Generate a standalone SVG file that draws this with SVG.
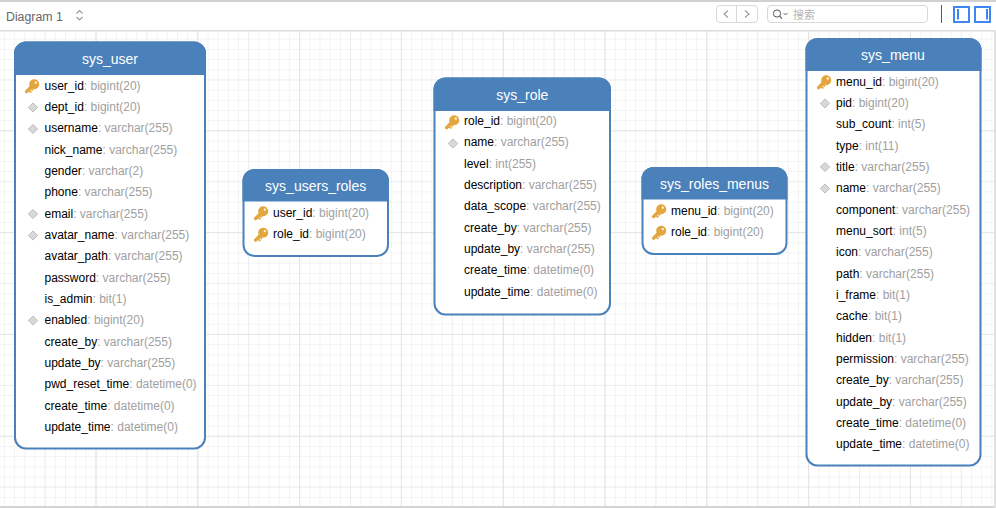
<svg xmlns="http://www.w3.org/2000/svg" width="996" height="508" viewBox="0 0 996 508">
<style>
text{font-family:"Liberation Sans",Arial,sans-serif}
.box{fill:#fff;stroke:#4a81bb;stroke-width:2}
.head{fill:#4a81bb}
.title{font-size:14px;fill:#fff;text-anchor:middle}
.row{font-size:12px;fill:#000}
.type{fill:#a0a0a0}
.ui{font-size:12.3px;fill:#666}
.btn{fill:none;stroke:#d8d8d8;stroke-width:1}
.chev{fill:none;stroke:#9a9a9a;stroke-width:1.1}
.panel{fill:#fff;stroke:#3f86f2;stroke-width:2}
</style>
<defs>
<pattern id="minor" width="10.18" height="10.18" patternUnits="userSpaceOnUse" x="-5.3" y="-1.04"><path d="M10.18 0V10.18M0 10.18H10.18" fill="none" stroke="#f0f0f0" stroke-width="1.4"/></pattern>
<pattern id="medium" width="50.9" height="50.9" patternUnits="userSpaceOnUse" x="-5.3" y="29.5"><path d="M50.9 0V50.9M0 50.9H50.9" fill="none" stroke="#e8e8e8" stroke-width="1.2"/></pattern>
<pattern id="major" width="101.8" height="101.8" patternUnits="userSpaceOnUse" x="-5.3" y="29.5"><path d="M101.8 0V101.8M0 101.8H101.8" fill="none" stroke="#dedede" stroke-width="1.2"/></pattern>
<g id="key"><path d="M2 -1.800L-5.400 5.600" stroke="#e3a63c" stroke-width="3.400" stroke-linecap="round" fill="none"/><path d="M-2.600 4.800L-0.600 6.400M-0.600 2.800L1 4.400" stroke="#e3a63c" stroke-width="1.800" fill="none"/><circle cx="2.200" cy="-1.700" r="5" fill="#e3a63c"/><circle cx="3.800" cy="-3.300" r="1.100" fill="#fff"/></g>
<path id="dia" d="M0 -4.600L4.600 0L0 4.600L-4.600 0Z" fill="#d8d8d8" stroke="#bcbcbc" stroke-width="1"/>
</defs>
<rect width="996" height="508" fill="#fff"/>
<rect y="30" width="996" height="478" fill="url(#minor)"/>
<rect y="30" width="996" height="478" fill="url(#medium)"/>
<rect y="30" width="996" height="478" fill="url(#major)"/>
<g id="toolbar">
<rect width="996" height="2" fill="#d0d0d0"/>
<rect y="2" width="996" height="28" fill="#fff"/>
<rect y="30" width="996" height="1.500" fill="#dcdcdc"/>
<rect y="506" width="996" height="2" fill="#d4d4d4"/>
<rect x="994" y="30" width="2" height="478" fill="#e2e2e2"/>
<text x="6" y="20.500" class="ui">Diagram 1</text>
<path class="chev" d="M76.500 13.500L79.500 10.500L82.500 13.500M76.500 17L79.500 20L82.500 17"/>
<rect class="btn" x="716.500" y="5.500" width="41" height="17" rx="3.500"/>
<path class="btn" d="M736.500 6V22"/>
<path class="chev" d="M728 10.500L724 14L728 17.500M745 10.500L749 14L745 17.500" stroke="#b8b8b8"/>
<rect class="btn" x="767.500" y="5.500" width="160" height="17" rx="3.500"/>
<circle cx="777" cy="13.500" r="3.600" fill="none" stroke="#555" stroke-width="1"/>
<path d="M779.600 16.200L782 18.600" stroke="#555" stroke-width="1.100"/>
<path d="M783.500 13L785.500 15L787.500 13" fill="none" stroke="#555" stroke-width="0.900"/>
<text x="793" y="18.500" font-size="11" fill="#b5b5b5" style="font-family:'Liberation Sans','Noto Sans CJK SC',sans-serif">搜索</text>
<path d="M941.500 5V23" stroke="#5a5a5a" stroke-width="1"/>
<rect class="panel" x="954" y="7" width="15" height="15"/><rect x="957" y="9" width="2" height="10.500" fill="#3f86f2"/>
<rect class="panel" x="975" y="7" width="15" height="15"/><rect x="986" y="9" width="2" height="10.500" fill="#3f86f2"/>
</g>
<g id="sys_user">
<rect class="box" x="15" y="42.500" width="190" height="406" rx="11"/>
<path class="head" d="M14 75V53.500A12 12 0 0 1 26 41.500H194A12 12 0 0 1 206 53.500V75Z"/>
<text class="title" x="110" y="64">sys_user</text>
<use href="#key" x="32" y="86"/>
<use href="#dia" x="33" y="107.500"/>
<use href="#dia" x="33" y="129"/>
<use href="#dia" x="33" y="214"/>
<use href="#dia" x="33" y="235.500"/>
<use href="#dia" x="33" y="320.500"/>
<text class="row" x="44.500" y="89.500">user_id<tspan class="type">: bigint(20)</tspan></text>
<text class="row" x="44.500" y="111">dept_id<tspan class="type">: bigint(20)</tspan></text>
<text class="row" x="44.500" y="132.300">username<tspan class="type">: varchar(255)</tspan></text>
<text class="row" x="44.500" y="153.600">nick_name<tspan class="type">: varchar(255)</tspan></text>
<text class="row" x="44.500" y="175">gender<tspan class="type">: varchar(2)</tspan></text>
<text class="row" x="44.500" y="196.300">phone<tspan class="type">: varchar(255)</tspan></text>
<text class="row" x="44.500" y="217.600">email<tspan class="type">: varchar(255)</tspan></text>
<text class="row" x="44.500" y="239">avatar_name<tspan class="type">: varchar(255)</tspan></text>
<text class="row" x="44.500" y="260.300">avatar_path<tspan class="type">: varchar(255)</tspan></text>
<text class="row" x="44.500" y="281.600">password<tspan class="type">: varchar(255)</tspan></text>
<text class="row" x="44.500" y="303">is_admin<tspan class="type">: bit(1)</tspan></text>
<text class="row" x="44.500" y="324.300">enabled<tspan class="type">: bigint(20)</tspan></text>
<text class="row" x="44.500" y="345.600">create_by<tspan class="type">: varchar(255)</tspan></text>
<text class="row" x="44.500" y="367">update_by<tspan class="type">: varchar(255)</tspan></text>
<text class="row" x="44.500" y="388.300">pwd_reset_time<tspan class="type">: datetime(0)</tspan></text>
<text class="row" x="44.500" y="409.600">create_time<tspan class="type">: datetime(0)</tspan></text>
<text class="row" x="44.500" y="431">update_time<tspan class="type">: datetime(0)</tspan></text>
</g>
<g id="sys_users_roles">
<rect class="box" x="243.500" y="170" width="144.500" height="86" rx="11"/>
<path class="head" d="M242.500 201.500V181A12 12 0 0 1 254.500 169H377A12 12 0 0 1 389 181V201.500Z"/>
<text class="title" x="315.700" y="191">sys_users_roles</text>
<use href="#key" x="261" y="213"/>
<use href="#key" x="261" y="234.500"/>
<text class="row" x="273" y="216.500">user_id<tspan class="type">: bigint(20)</tspan></text>
<text class="row" x="273" y="238">role_id<tspan class="type">: bigint(20)</tspan></text>
</g>
<g id="sys_role">
<rect class="box" x="434.500" y="78.500" width="175.500" height="236" rx="11"/>
<path class="head" d="M433.500 111V89.500A12 12 0 0 1 445.500 77.500H599A12 12 0 0 1 611 89.500V111Z"/>
<text class="title" x="522.300" y="100">sys_role</text>
<use href="#key" x="452" y="122"/>
<use href="#dia" x="453" y="143.500"/>
<text class="row" x="464" y="125">role_id<tspan class="type">: bigint(20)</tspan></text>
<text class="row" x="464" y="146.300">name<tspan class="type">: varchar(255)</tspan></text>
<text class="row" x="464" y="167.600">level<tspan class="type">: int(255)</tspan></text>
<text class="row" x="464" y="189">description<tspan class="type">: varchar(255)</tspan></text>
<text class="row" x="464" y="210.300">data_scope<tspan class="type">: varchar(255)</tspan></text>
<text class="row" x="464" y="231.600">create_by<tspan class="type">: varchar(255)</tspan></text>
<text class="row" x="464" y="253">update_by<tspan class="type">: varchar(255)</tspan></text>
<text class="row" x="464" y="274.300">create_time<tspan class="type">: datetime(0)</tspan></text>
<text class="row" x="464" y="295.600">update_time<tspan class="type">: datetime(0)</tspan></text>
</g>
<g id="sys_roles_menus">
<rect class="box" x="642.500" y="168" width="144" height="86" rx="11"/>
<path class="head" d="M641.500 199.500V179A12 12 0 0 1 653.500 167H775.500A12 12 0 0 1 787.500 179V199.500Z"/>
<text class="title" x="714.500" y="189">sys_roles_menus</text>
<use href="#key" x="659" y="211"/>
<use href="#key" x="659" y="232.500"/>
<text class="row" x="671" y="214.500">menu_id<tspan class="type">: bigint(20)</tspan></text>
<text class="row" x="671" y="236">role_id<tspan class="type">: bigint(20)</tspan></text>
</g>
<g id="sys_menu">
<rect class="box" x="806.500" y="39" width="174" height="426.500" rx="11"/>
<path class="head" d="M805.500 71V50A12 12 0 0 1 817.500 38H969.500A12 12 0 0 1 981.500 50V71Z"/>
<text class="title" x="893" y="60">sys_menu</text>
<use href="#key" x="824" y="82"/>
<use href="#dia" x="825" y="103.500"/>
<use href="#dia" x="825" y="167"/>
<use href="#dia" x="825" y="188.500"/>
<text class="row" x="836" y="85.500">menu_id<tspan class="type">: bigint(20)</tspan></text>
<text class="row" x="836" y="107">pid<tspan class="type">: bigint(20)</tspan></text>
<text class="row" x="836" y="128.300">sub_count<tspan class="type">: int(5)</tspan></text>
<text class="row" x="836" y="149.600">type<tspan class="type">: int(11)</tspan></text>
<text class="row" x="836" y="171">title<tspan class="type">: varchar(255)</tspan></text>
<text class="row" x="836" y="192.300">name<tspan class="type">: varchar(255)</tspan></text>
<text class="row" x="836" y="213.600">component<tspan class="type">: varchar(255)</tspan></text>
<text class="row" x="836" y="235">menu_sort<tspan class="type">: int(5)</tspan></text>
<text class="row" x="836" y="256.300">icon<tspan class="type">: varchar(255)</tspan></text>
<text class="row" x="836" y="277.600">path<tspan class="type">: varchar(255)</tspan></text>
<text class="row" x="836" y="299">i_frame<tspan class="type">: bit(1)</tspan></text>
<text class="row" x="836" y="320.300">cache<tspan class="type">: bit(1)</tspan></text>
<text class="row" x="836" y="341.600">hidden<tspan class="type">: bit(1)</tspan></text>
<text class="row" x="836" y="363">permission<tspan class="type">: varchar(255)</tspan></text>
<text class="row" x="836" y="384.300">create_by<tspan class="type">: varchar(255)</tspan></text>
<text class="row" x="836" y="405.600">update_by<tspan class="type">: varchar(255)</tspan></text>
<text class="row" x="836" y="427">create_time<tspan class="type">: datetime(0)</tspan></text>
<text class="row" x="836" y="448.300">update_time<tspan class="type">: datetime(0)</tspan></text>
</g>
</svg>
